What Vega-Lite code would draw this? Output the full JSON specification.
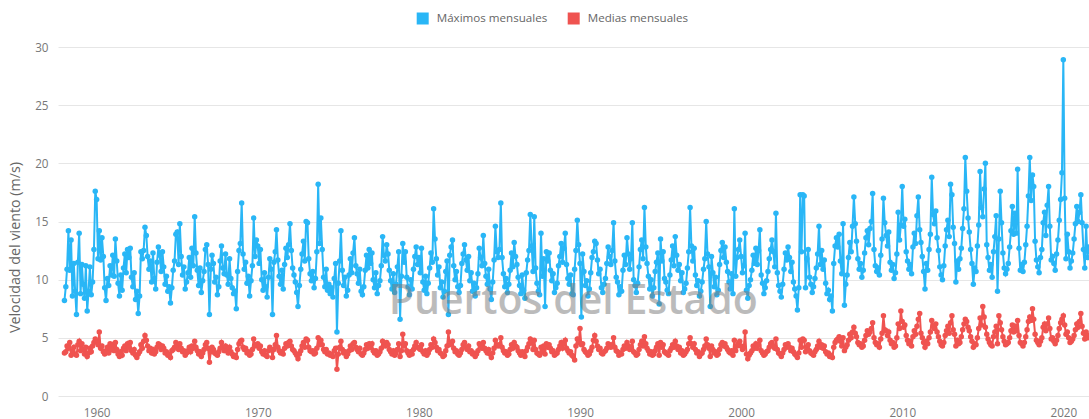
{
"$schema": "https://vega.github.io/schema/vega-lite/v6.json",
"width": 1031, "height": 349,
"autosize": {"type": "none"},
"padding": {"left": 58, "top": 47, "right": 0, "bottom": 23},
"background": "white",
"config": {"view": {"stroke": null}, "font": "Open Sans"},
"layer": [
{
"data": {"values": [
{"t":"1958-01","a":8.2,"b":3.7},{"t":"1958-02","a":9.4,"b":3.8},{"t":"1958-03","a":10.9,"b":4.3},{"t":"1958-04","a":14.2,"b":4.1},{"t":"1958-05","a":10.8,"b":4.6},{"t":"1958-06","a":13.4,"b":3.5},{"t":"1958-07","a":8.6,"b":3.9},{"t":"1958-08","a":11.4,"b":4.2},{"t":"1958-09","a":9.0,"b":3.6},{"t":"1958-10","a":7.0,"b":3.5},{"t":"1958-11","a":11.5,"b":4.4},{"t":"1958-12","a":14.0,"b":4.7},
{"t":"1959-01","a":8.8,"b":3.9},{"t":"1959-02","a":11.3,"b":4.5},{"t":"1959-03","a":9.6,"b":4.0},{"t":"1959-04","a":8.4,"b":3.6},{"t":"1959-05","a":11.2,"b":4.2},{"t":"1959-06","a":7.3,"b":3.4},{"t":"1959-07","a":9.0,"b":3.7},{"t":"1959-08","a":11.1,"b":4.1},{"t":"1959-09","a":8.7,"b":3.8},{"t":"1959-10","a":9.8,"b":4.3},{"t":"1959-11","a":12.6,"b":4.6},{"t":"1959-12","a":17.6,"b":4.9},
{"t":"1960-01","a":16.9,"b":4.7},{"t":"1960-02","a":11.8,"b":4.4},{"t":"1960-03","a":14.2,"b":5.5},{"t":"1960-04","a":11.7,"b":4.1},{"t":"1960-05","a":13.6,"b":4.3},{"t":"1960-06","a":12.0,"b":3.8},{"t":"1960-07","a":9.3,"b":3.6},{"t":"1960-08","a":8.2,"b":3.9},{"t":"1960-09","a":10.1,"b":4.2},{"t":"1960-10","a":9.5,"b":3.7},{"t":"1960-11","a":11.2,"b":4.5},{"t":"1960-12","a":10.4,"b":4.0},
{"t":"1961-01","a":12.1,"b":4.4},{"t":"1961-02","a":10.3,"b":3.9},{"t":"1961-03","a":13.5,"b":4.6},{"t":"1961-04","a":11.6,"b":4.0},{"t":"1961-05","a":9.7,"b":3.6},{"t":"1961-06","a":8.6,"b":3.4},{"t":"1961-07","a":10.4,"b":3.8},{"t":"1961-08","a":9.1,"b":3.5},{"t":"1961-09","a":11.0,"b":4.1},{"t":"1961-10","a":12.2,"b":4.3},{"t":"1961-11","a":10.6,"b":3.9},{"t":"1961-12","a":12.6,"b":4.5},
{"t":"1962-01","a":11.9,"b":4.2},{"t":"1962-02","a":12.7,"b":4.6},{"t":"1962-03","a":10.2,"b":3.9},{"t":"1962-04","a":9.4,"b":3.7},{"t":"1962-05","a":10.6,"b":4.0},{"t":"1962-06","a":8.3,"b":3.5},{"t":"1962-07","a":9.0,"b":3.3},{"t":"1962-08","a":7.1,"b":3.6},{"t":"1962-09","a":8.6,"b":3.8},{"t":"1962-10","a":12.4,"b":4.4},{"t":"1962-11","a":11.8,"b":4.1},{"t":"1962-12","a":12.5,"b":4.7},
{"t":"1963-01","a":14.5,"b":5.2},{"t":"1963-02","a":13.8,"b":4.8},{"t":"1963-03","a":12.0,"b":4.3},{"t":"1963-04","a":10.9,"b":3.9},{"t":"1963-05","a":11.6,"b":4.1},{"t":"1963-06","a":9.8,"b":3.7},{"t":"1963-07","a":12.3,"b":4.0},{"t":"1963-08","a":10.1,"b":3.6},{"t":"1963-09","a":9.2,"b":3.8},{"t":"1963-10","a":11.5,"b":4.2},{"t":"1963-11","a":12.8,"b":4.5},{"t":"1963-12","a":12.1,"b":4.4},
{"t":"1964-01","a":10.7,"b":4.0},{"t":"1964-02","a":12.4,"b":4.3},{"t":"1964-03","a":11.1,"b":4.1},{"t":"1964-04","a":9.6,"b":3.7},{"t":"1964-05","a":10.3,"b":3.8},{"t":"1964-06","a":9.0,"b":3.5},{"t":"1964-07","a":9.4,"b":3.6},{"t":"1964-08","a":8.0,"b":3.3},{"t":"1964-09","a":9.3,"b":3.9},{"t":"1964-10","a":10.8,"b":4.0},{"t":"1964-11","a":11.6,"b":4.2},{"t":"1964-12","a":13.9,"b":4.6},
{"t":"1965-01","a":14.1,"b":4.4},{"t":"1965-02","a":11.3,"b":4.0},{"t":"1965-03","a":14.8,"b":4.5},{"t":"1965-04","a":12.0,"b":4.1},{"t":"1965-05","a":10.4,"b":3.8},{"t":"1965-06","a":11.1,"b":3.9},{"t":"1965-07","a":9.2,"b":3.5},{"t":"1965-08","a":9.8,"b":3.7},{"t":"1965-09","a":10.6,"b":3.9},{"t":"1965-10","a":11.9,"b":4.2},{"t":"1965-11","a":10.2,"b":3.8},{"t":"1965-12","a":12.7,"b":4.3},
{"t":"1966-01","a":11.2,"b":4.1},{"t":"1966-02","a":15.4,"b":4.7},{"t":"1966-03","a":12.3,"b":4.2},{"t":"1966-04","a":10.8,"b":3.9},{"t":"1966-05","a":9.5,"b":3.6},{"t":"1966-06","a":11.0,"b":3.8},{"t":"1966-07","a":8.9,"b":3.4},{"t":"1966-08","a":9.9,"b":3.7},{"t":"1966-09","a":10.7,"b":4.0},{"t":"1966-10","a":12.6,"b":4.4},{"t":"1966-11","a":13.0,"b":4.6},{"t":"1966-12","a":11.3,"b":4.1},
{"t":"1967-01","a":7.0,"b":2.9},{"t":"1967-02","a":10.9,"b":3.8},{"t":"1967-03","a":12.1,"b":4.2},{"t":"1967-04","a":11.4,"b":4.0},{"t":"1967-05","a":9.8,"b":3.7},{"t":"1967-06","a":10.2,"b":3.6},{"t":"1967-07","a":8.7,"b":3.5},{"t":"1967-08","a":9.4,"b":3.8},{"t":"1967-09","a":11.6,"b":4.1},{"t":"1967-10","a":12.9,"b":4.6},{"t":"1967-11","a":11.0,"b":4.2},{"t":"1967-12","a":10.5,"b":3.9},
{"t":"1968-01","a":12.2,"b":4.3},{"t":"1968-02","a":10.4,"b":3.9},{"t":"1968-03","a":9.6,"b":3.7},{"t":"1968-04","a":11.8,"b":4.2},{"t":"1968-05","a":10.1,"b":3.8},{"t":"1968-06","a":9.3,"b":3.6},{"t":"1968-07","a":8.8,"b":3.4},{"t":"1968-08","a":9.0,"b":3.5},{"t":"1968-09","a":7.5,"b":3.3},{"t":"1968-10","a":10.7,"b":4.0},{"t":"1968-11","a":12.5,"b":4.5},{"t":"1968-12","a":13.1,"b":4.7},
{"t":"1969-01","a":16.6,"b":4.8},{"t":"1969-02","a":12.2,"b":4.2},{"t":"1969-03","a":10.9,"b":4.0},{"t":"1969-04","a":11.5,"b":4.1},{"t":"1969-05","a":9.7,"b":3.7},{"t":"1969-06","a":10.3,"b":3.8},{"t":"1969-07","a":8.6,"b":3.5},{"t":"1969-08","a":9.9,"b":3.6},{"t":"1969-09","a":11.2,"b":4.0},{"t":"1969-10","a":15.3,"b":4.9},{"t":"1969-11","a":12.0,"b":4.3},{"t":"1969-12","a":13.4,"b":4.4},
{"t":"1970-01","a":12.9,"b":4.5},{"t":"1970-02","a":11.4,"b":4.1},{"t":"1970-03","a":12.6,"b":4.3},{"t":"1970-04","a":10.0,"b":3.8},{"t":"1970-05","a":9.1,"b":3.6},{"t":"1970-06","a":10.6,"b":3.9},{"t":"1970-07","a":9.4,"b":3.5},{"t":"1970-08","a":8.5,"b":3.4},{"t":"1970-09","a":10.2,"b":3.9},{"t":"1970-10","a":11.8,"b":4.2},{"t":"1970-11","a":10.9,"b":4.0},{"t":"1970-12","a":7.0,"b":3.3},
{"t":"1971-01","a":11.5,"b":4.0},{"t":"1971-02","a":12.4,"b":4.4},{"t":"1971-03","a":14.3,"b":5.2},{"t":"1971-04","a":11.7,"b":4.2},{"t":"1971-05","a":10.3,"b":3.9},{"t":"1971-06","a":9.6,"b":3.7},{"t":"1971-07","a":10.8,"b":3.8},{"t":"1971-08","a":9.2,"b":3.6},{"t":"1971-09","a":11.3,"b":4.1},{"t":"1971-10","a":12.7,"b":4.5},{"t":"1971-11","a":11.9,"b":4.3},{"t":"1971-12","a":13.0,"b":4.6},
{"t":"1972-01","a":14.8,"b":4.7},{"t":"1972-02","a":12.5,"b":4.3},{"t":"1972-03","a":11.0,"b":4.0},{"t":"1972-04","a":10.4,"b":3.9},{"t":"1972-05","a":9.8,"b":3.7},{"t":"1972-06","a":8.9,"b":3.5},{"t":"1972-07","a":7.7,"b":3.2},{"t":"1972-08","a":9.5,"b":3.6},{"t":"1972-09","a":10.9,"b":3.9},{"t":"1972-10","a":12.2,"b":4.3},{"t":"1972-11","a":13.3,"b":4.6},{"t":"1972-12","a":11.6,"b":4.2},
{"t":"1973-01","a":15.0,"b":4.9},{"t":"1973-02","a":14.9,"b":4.8},{"t":"1973-03","a":11.8,"b":4.2},{"t":"1973-04","a":10.5,"b":3.9},{"t":"1973-05","a":9.9,"b":3.8},{"t":"1973-06","a":10.7,"b":3.9},{"t":"1973-07","a":9.3,"b":3.6},{"t":"1973-08","a":10.1,"b":3.7},{"t":"1973-09","a":12.4,"b":4.1},{"t":"1973-10","a":18.2,"b":5.0},{"t":"1973-11","a":13.1,"b":4.4},{"t":"1973-12","a":15.3,"b":4.8},
{"t":"1974-01","a":12.6,"b":4.4},{"t":"1974-02","a":10.2,"b":4.0},{"t":"1974-03","a":9.4,"b":3.8},{"t":"1974-04","a":10.9,"b":4.0},{"t":"1974-05","a":9.1,"b":3.6},{"t":"1974-06","a":9.6,"b":3.7},{"t":"1974-07","a":8.8,"b":3.5},{"t":"1974-08","a":9.3,"b":3.6},{"t":"1974-09","a":8.5,"b":3.4},{"t":"1974-10","a":10.1,"b":3.9},{"t":"1974-11","a":11.4,"b":4.1},{"t":"1974-12","a":5.5,"b":2.3},
{"t":"1975-01","a":9.7,"b":3.6},{"t":"1975-02","a":11.6,"b":4.2},{"t":"1975-03","a":14.2,"b":4.7},{"t":"1975-04","a":10.8,"b":4.0},{"t":"1975-05","a":9.5,"b":3.7},{"t":"1975-06","a":10.2,"b":3.8},{"t":"1975-07","a":8.6,"b":3.4},{"t":"1975-08","a":9.1,"b":3.6},{"t":"1975-09","a":10.4,"b":3.9},{"t":"1975-10","a":11.8,"b":4.3},{"t":"1975-11","a":10.6,"b":4.0},{"t":"1975-12","a":12.3,"b":4.5},
{"t":"1976-01","a":13.6,"b":4.6},{"t":"1976-02","a":11.2,"b":4.2},{"t":"1976-03","a":10.5,"b":4.0},{"t":"1976-04","a":9.7,"b":3.8},{"t":"1976-05","a":10.9,"b":4.1},{"t":"1976-06","a":9.0,"b":3.6},{"t":"1976-07","a":8.7,"b":3.5},{"t":"1976-08","a":9.4,"b":3.7},{"t":"1976-09","a":10.8,"b":4.0},{"t":"1976-10","a":12.1,"b":4.4},{"t":"1976-11","a":11.0,"b":4.1},{"t":"1976-12","a":12.6,"b":4.5},
{"t":"1977-01","a":11.4,"b":4.2},{"t":"1977-02","a":12.3,"b":4.5},{"t":"1977-03","a":10.0,"b":3.9},{"t":"1977-04","a":9.3,"b":3.7},{"t":"1977-05","a":10.6,"b":3.9},{"t":"1977-06","a":8.8,"b":3.5},{"t":"1977-07","a":9.5,"b":3.6},{"t":"1977-08","a":9.9,"b":3.8},{"t":"1977-09","a":11.2,"b":4.1},{"t":"1977-10","a":13.7,"b":4.7},{"t":"1977-11","a":12.1,"b":4.4},{"t":"1977-12","a":11.6,"b":4.3},
{"t":"1978-01","a":13.0,"b":4.6},{"t":"1978-02","a":12.2,"b":4.4},{"t":"1978-03","a":10.8,"b":4.0},{"t":"1978-04","a":9.9,"b":3.8},{"t":"1978-05","a":9.2,"b":3.6},{"t":"1978-06","a":10.5,"b":3.9},{"t":"1978-07","a":8.9,"b":3.5},{"t":"1978-08","a":9.6,"b":3.7},{"t":"1978-09","a":11.1,"b":4.0},{"t":"1978-10","a":12.4,"b":4.5},{"t":"1978-11","a":6.6,"b":3.4},{"t":"1978-12","a":10.3,"b":3.9},
{"t":"1979-01","a":13.1,"b":5.3},{"t":"1979-02","a":11.5,"b":4.3},{"t":"1979-03","a":12.4,"b":4.5},{"t":"1979-04","a":10.2,"b":3.9},{"t":"1979-05","a":9.4,"b":3.7},{"t":"1979-06","a":8.7,"b":3.5},{"t":"1979-07","a":10.0,"b":3.8},{"t":"1979-08","a":9.2,"b":3.6},{"t":"1979-09","a":10.9,"b":4.0},{"t":"1979-10","a":12.0,"b":4.3},{"t":"1979-11","a":12.8,"b":4.6},{"t":"1979-12","a":11.3,"b":4.2},
{"t":"1980-01","a":11.9,"b":4.1},{"t":"1980-02","a":10.6,"b":4.0},{"t":"1980-03","a":12.7,"b":4.4},{"t":"1980-04","a":9.8,"b":3.8},{"t":"1980-05","a":9.1,"b":3.6},{"t":"1980-06","a":10.3,"b":3.9},{"t":"1980-07","a":8.8,"b":3.5},{"t":"1980-08","a":9.7,"b":3.7},{"t":"1980-09","a":11.0,"b":4.0},{"t":"1980-10","a":12.3,"b":4.4},{"t":"1980-11","a":11.5,"b":4.2},{"t":"1980-12","a":16.1,"b":4.9},
{"t":"1981-01","a":13.5,"b":4.6},{"t":"1981-02","a":11.8,"b":4.2},{"t":"1981-03","a":10.4,"b":3.9},{"t":"1981-04","a":11.1,"b":4.0},{"t":"1981-05","a":9.3,"b":3.7},{"t":"1981-06","a":9.8,"b":3.6},{"t":"1981-07","a":8.5,"b":3.4},{"t":"1981-08","a":9.0,"b":3.5},{"t":"1981-09","a":10.7,"b":3.9},{"t":"1981-10","a":11.6,"b":4.3},{"t":"1981-11","a":7.0,"b":5.5},{"t":"1981-12","a":12.1,"b":4.4},
{"t":"1982-01","a":12.8,"b":4.5},{"t":"1982-02","a":13.4,"b":4.7},{"t":"1982-03","a":11.2,"b":4.1},{"t":"1982-04","a":10.0,"b":3.8},{"t":"1982-05","a":10.7,"b":3.9},{"t":"1982-06","a":9.4,"b":3.6},{"t":"1982-07","a":8.9,"b":3.5},{"t":"1982-08","a":9.5,"b":3.7},{"t":"1982-09","a":11.4,"b":4.0},{"t":"1982-10","a":12.2,"b":4.4},{"t":"1982-11","a":13.0,"b":4.6},{"t":"1982-12","a":11.7,"b":4.2},
{"t":"1983-01","a":10.8,"b":4.0},{"t":"1983-02","a":12.0,"b":4.3},{"t":"1983-03","a":9.9,"b":3.8},{"t":"1983-04","a":10.6,"b":3.9},{"t":"1983-05","a":9.0,"b":3.6},{"t":"1983-06","a":9.7,"b":3.7},{"t":"1983-07","a":8.6,"b":3.4},{"t":"1983-08","a":9.3,"b":3.6},{"t":"1983-09","a":10.5,"b":3.9},{"t":"1983-10","a":12.7,"b":4.5},{"t":"1983-11","a":11.9,"b":4.3},{"t":"1983-12","a":11.2,"b":4.1},
{"t":"1984-01","a":13.8,"b":4.6},{"t":"1984-02","a":11.4,"b":4.1},{"t":"1984-03","a":10.3,"b":3.9},{"t":"1984-04","a":9.6,"b":3.7},{"t":"1984-05","a":10.9,"b":4.0},{"t":"1984-06","a":9.2,"b":3.6},{"t":"1984-07","a":8.3,"b":3.3},{"t":"1984-08","a":9.8,"b":3.7},{"t":"1984-09","a":11.7,"b":4.1},{"t":"1984-10","a":14.6,"b":4.8},{"t":"1984-11","a":12.4,"b":4.4},{"t":"1984-12","a":11.9,"b":4.3},
{"t":"1985-01","a":12.6,"b":4.4},{"t":"1985-02","a":16.6,"b":5.0},{"t":"1985-03","a":11.9,"b":4.2},{"t":"1985-04","a":10.5,"b":3.9},{"t":"1985-05","a":9.4,"b":3.7},{"t":"1985-06","a":10.1,"b":3.8},{"t":"1985-07","a":8.9,"b":3.5},{"t":"1985-08","a":9.6,"b":3.6},{"t":"1985-09","a":10.8,"b":4.0},{"t":"1985-10","a":12.3,"b":4.4},{"t":"1985-11","a":11.1,"b":4.1},{"t":"1985-12","a":13.2,"b":4.6},
{"t":"1986-01","a":12.0,"b":4.3},{"t":"1986-02","a":11.3,"b":4.2},{"t":"1986-03","a":10.2,"b":3.9},{"t":"1986-04","a":9.5,"b":3.7},{"t":"1986-05","a":8.8,"b":3.5},{"t":"1986-06","a":10.4,"b":3.8},{"t":"1986-07","a":9.1,"b":3.6},{"t":"1986-08","a":8.4,"b":3.4},{"t":"1986-09","a":10.6,"b":3.9},{"t":"1986-10","a":11.7,"b":4.2},{"t":"1986-11","a":12.5,"b":4.5},{"t":"1986-12","a":15.6,"b":4.9},
{"t":"1987-01","a":12.9,"b":4.6},{"t":"1987-02","a":10.7,"b":4.0},{"t":"1987-03","a":15.4,"b":4.8},{"t":"1987-04","a":11.0,"b":4.0},{"t":"1987-05","a":9.7,"b":3.7},{"t":"1987-06","a":9.0,"b":3.6},{"t":"1987-07","a":8.7,"b":3.5},{"t":"1987-08","a":14.0,"b":4.2},{"t":"1987-09","a":10.3,"b":3.8},{"t":"1987-10","a":11.8,"b":4.3},{"t":"1987-11","a":7.7,"b":3.6},{"t":"1987-12","a":12.4,"b":4.5},
{"t":"1988-01","a":11.6,"b":4.2},{"t":"1988-02","a":12.3,"b":4.4},{"t":"1988-03","a":10.8,"b":4.1},{"t":"1988-04","a":9.9,"b":3.8},{"t":"1988-05","a":10.5,"b":3.9},{"t":"1988-06","a":8.9,"b":3.5},{"t":"1988-07","a":9.3,"b":3.6},{"t":"1988-08","a":9.7,"b":3.7},{"t":"1988-09","a":11.2,"b":4.0},{"t":"1988-10","a":12.0,"b":4.3},{"t":"1988-11","a":13.1,"b":4.6},{"t":"1988-12","a":11.5,"b":4.1},
{"t":"1989-01","a":12.7,"b":4.5},{"t":"1989-02","a":14.0,"b":4.8},{"t":"1989-03","a":11.3,"b":4.1},{"t":"1989-04","a":10.1,"b":3.9},{"t":"1989-05","a":9.6,"b":3.7},{"t":"1989-06","a":10.4,"b":3.8},{"t":"1989-07","a":8.8,"b":3.5},{"t":"1989-08","a":8.7,"b":3.4},{"t":"1989-09","a":10.9,"b":3.1},{"t":"1989-10","a":12.5,"b":4.3},{"t":"1989-11","a":15.1,"b":4.9},{"t":"1989-12","a":13.0,"b":4.6},
{"t":"1990-01","a":11.4,"b":5.8},{"t":"1990-02","a":6.8,"b":4.4},{"t":"1990-03","a":12.2,"b":4.5},{"t":"1990-04","a":10.7,"b":4.0},{"t":"1990-05","a":9.5,"b":3.8},{"t":"1990-06","a":9.9,"b":3.7},{"t":"1990-07","a":8.6,"b":3.5},{"t":"1990-08","a":9.2,"b":3.6},{"t":"1990-09","a":10.6,"b":3.9},{"t":"1990-10","a":11.9,"b":4.2},{"t":"1990-11","a":12.4,"b":4.8},{"t":"1990-12","a":13.3,"b":5.2},
{"t":"1991-01","a":13.1,"b":4.7},{"t":"1991-02","a":11.7,"b":4.3},{"t":"1991-03","a":10.5,"b":4.0},{"t":"1991-04","a":10.9,"b":4.1},{"t":"1991-05","a":9.3,"b":3.7},{"t":"1991-06","a":8.9,"b":3.6},{"t":"1991-07","a":9.6,"b":3.8},{"t":"1991-08","a":10.1,"b":3.9},{"t":"1991-09","a":11.4,"b":4.1},{"t":"1991-10","a":12.8,"b":4.5},{"t":"1991-11","a":12.0,"b":4.4},{"t":"1991-12","a":11.3,"b":4.2},
{"t":"1992-01","a":12.5,"b":4.4},{"t":"1992-02","a":14.9,"b":5.0},{"t":"1992-03","a":11.6,"b":4.2},{"t":"1992-04","a":10.2,"b":3.9},{"t":"1992-05","a":9.8,"b":3.8},{"t":"1992-06","a":8.7,"b":3.5},{"t":"1992-07","a":9.4,"b":3.7},{"t":"1992-08","a":9.0,"b":3.6},{"t":"1992-09","a":10.8,"b":4.0},{"t":"1992-10","a":12.1,"b":4.3},{"t":"1992-11","a":11.3,"b":4.1},{"t":"1992-12","a":13.6,"b":4.6},
{"t":"1993-01","a":12.2,"b":4.3},{"t":"1993-02","a":10.9,"b":4.0},{"t":"1993-03","a":11.8,"b":4.2},{"t":"1993-04","a":14.9,"b":4.7},{"t":"1993-05","a":10.0,"b":3.8},{"t":"1993-06","a":9.5,"b":3.7},{"t":"1993-07","a":8.9,"b":3.5},{"t":"1993-08","a":9.7,"b":3.6},{"t":"1993-09","a":11.1,"b":4.0},{"t":"1993-10","a":12.6,"b":4.4},{"t":"1993-11","a":13.4,"b":4.7},{"t":"1993-12","a":11.8,"b":4.3},
{"t":"1994-01","a":16.2,"b":5.1},{"t":"1994-02","a":12.8,"b":4.5},{"t":"1994-03","a":11.4,"b":4.1},{"t":"1994-04","a":10.3,"b":3.9},{"t":"1994-05","a":9.2,"b":3.6},{"t":"1994-06","a":10.0,"b":3.8},{"t":"1994-07","a":8.6,"b":3.5},{"t":"1994-08","a":9.3,"b":3.6},{"t":"1994-09","a":10.7,"b":3.9},{"t":"1994-10","a":11.5,"b":4.2},{"t":"1994-11","a":12.3,"b":4.5},{"t":"1994-12","a":7.9,"b":3.5},
{"t":"1995-01","a":13.5,"b":4.6},{"t":"1995-02","a":11.6,"b":4.2},{"t":"1995-03","a":12.4,"b":4.4},{"t":"1995-04","a":10.1,"b":3.8},{"t":"1995-05","a":9.8,"b":3.7},{"t":"1995-06","a":9.1,"b":3.6},{"t":"1995-07","a":8.8,"b":3.5},{"t":"1995-08","a":10.4,"b":3.9},{"t":"1995-09","a":11.7,"b":4.1},{"t":"1995-10","a":12.9,"b":4.4},{"t":"1995-11","a":11.2,"b":4.2},{"t":"1995-12","a":13.7,"b":4.7},
{"t":"1996-01","a":12.1,"b":4.3},{"t":"1996-02","a":10.8,"b":4.0},{"t":"1996-03","a":11.3,"b":4.2},{"t":"1996-04","a":9.9,"b":3.7},{"t":"1996-05","a":10.6,"b":3.9},{"t":"1996-06","a":8.9,"b":3.5},{"t":"1996-07","a":9.2,"b":3.6},{"t":"1996-08","a":9.7,"b":3.8},{"t":"1996-09","a":11.0,"b":4.0},{"t":"1996-10","a":12.4,"b":4.5},{"t":"1996-11","a":16.2,"b":5.0},{"t":"1996-12","a":12.9,"b":4.5},
{"t":"1997-01","a":11.6,"b":4.2},{"t":"1997-02","a":12.7,"b":4.5},{"t":"1997-03","a":10.4,"b":4.0},{"t":"1997-04","a":9.5,"b":3.7},{"t":"1997-05","a":9.9,"b":3.8},{"t":"1997-06","a":8.6,"b":3.4},{"t":"1997-07","a":9.0,"b":3.6},{"t":"1997-08","a":9.8,"b":3.7},{"t":"1997-09","a":10.9,"b":4.0},{"t":"1997-10","a":11.8,"b":4.3},{"t":"1997-11","a":15.0,"b":4.9},{"t":"1997-12","a":12.2,"b":4.4},
{"t":"1998-01","a":11.1,"b":4.1},{"t":"1998-02","a":7.7,"b":3.4},{"t":"1998-03","a":12.0,"b":4.3},{"t":"1998-04","a":10.6,"b":4.0},{"t":"1998-05","a":9.4,"b":3.7},{"t":"1998-06","a":10.2,"b":3.8},{"t":"1998-07","a":8.7,"b":3.5},{"t":"1998-08","a":9.1,"b":3.6},{"t":"1998-09","a":11.3,"b":4.0},{"t":"1998-10","a":12.5,"b":4.4},{"t":"1998-11","a":13.2,"b":4.6},{"t":"1998-12","a":11.9,"b":4.3},
{"t":"1999-01","a":12.8,"b":4.5},{"t":"1999-02","a":11.5,"b":4.2},{"t":"1999-03","a":10.7,"b":4.0},{"t":"1999-04","a":9.8,"b":3.8},{"t":"1999-05","a":9.2,"b":3.7},{"t":"1999-06","a":10.5,"b":3.9},{"t":"1999-07","a":8.8,"b":3.5},{"t":"1999-08","a":16.1,"b":4.8},{"t":"1999-09","a":10.3,"b":3.9},{"t":"1999-10","a":11.9,"b":4.3},{"t":"1999-11","a":12.6,"b":4.5},{"t":"1999-12","a":13.4,"b":4.7},
{"t":"2000-01","a":12.0,"b":4.3},{"t":"2000-02","a":10.6,"b":4.0},{"t":"2000-03","a":11.2,"b":4.2},{"t":"2000-04","a":14.0,"b":5.5},{"t":"2000-05","a":9.1,"b":3.6},{"t":"2000-06","a":8.4,"b":3.2},{"t":"2000-07","a":9.5,"b":3.5},{"t":"2000-08","a":10.0,"b":3.7},{"t":"2000-09","a":10.8,"b":3.9},{"t":"2000-10","a":12.1,"b":4.3},{"t":"2000-11","a":11.4,"b":4.1},{"t":"2000-12","a":12.7,"b":4.5},
{"t":"2001-01","a":11.3,"b":4.1},{"t":"2001-02","a":12.5,"b":4.4},{"t":"2001-03","a":14.3,"b":4.8},{"t":"2001-04","a":10.4,"b":3.9},{"t":"2001-05","a":9.7,"b":3.7},{"t":"2001-06","a":8.8,"b":3.5},{"t":"2001-07","a":9.3,"b":3.6},{"t":"2001-08","a":9.9,"b":3.8},{"t":"2001-09","a":10.7,"b":3.9},{"t":"2001-10","a":11.8,"b":4.2},{"t":"2001-11","a":12.6,"b":4.5},{"t":"2001-12","a":13.4,"b":4.6},
{"t":"2002-01","a":12.4,"b":4.3},{"t":"2002-02","a":11.1,"b":4.1},{"t":"2002-03","a":15.7,"b":4.9},{"t":"2002-04","a":10.6,"b":4.0},{"t":"2002-05","a":9.5,"b":3.7},{"t":"2002-06","a":9.0,"b":3.6},{"t":"2002-07","a":8.5,"b":3.4},{"t":"2002-08","a":9.6,"b":3.7},{"t":"2002-09","a":10.9,"b":4.0},{"t":"2002-10","a":12.3,"b":4.4},{"t":"2002-11","a":11.7,"b":4.2},{"t":"2002-12","a":12.8,"b":4.5},
{"t":"2003-01","a":11.9,"b":4.2},{"t":"2003-02","a":10.7,"b":3.9},{"t":"2003-03","a":11.5,"b":4.1},{"t":"2003-04","a":9.8,"b":3.8},{"t":"2003-05","a":9.2,"b":3.6},{"t":"2003-06","a":8.6,"b":3.5},{"t":"2003-07","a":7.4,"b":3.3},{"t":"2003-08","a":9.3,"b":3.7},{"t":"2003-09","a":17.3,"b":4.8},{"t":"2003-10","a":12.4,"b":4.2},{"t":"2003-11","a":17.3,"b":4.9},{"t":"2003-12","a":17.2,"b":4.8},
{"t":"2004-01","a":9.3,"b":3.8},{"t":"2004-02","a":11.8,"b":4.2},{"t":"2004-03","a":12.6,"b":4.4},{"t":"2004-04","a":10.2,"b":3.9},{"t":"2004-05","a":9.6,"b":3.7},{"t":"2004-06","a":8.9,"b":3.6},{"t":"2004-07","a":9.4,"b":3.5},{"t":"2004-08","a":10.1,"b":3.8},{"t":"2004-09","a":11.0,"b":4.0},{"t":"2004-10","a":12.2,"b":4.3},{"t":"2004-11","a":14.6,"b":4.7},{"t":"2004-12","a":11.3,"b":4.2},
{"t":"2005-01","a":12.5,"b":4.4},{"t":"2005-02","a":10.9,"b":4.1},{"t":"2005-03","a":11.7,"b":4.3},{"t":"2005-04","a":9.7,"b":3.8},{"t":"2005-05","a":8.8,"b":3.6},{"t":"2005-06","a":9.1,"b":3.7},{"t":"2005-07","a":8.3,"b":3.4},{"t":"2005-08","a":8.6,"b":3.5},{"t":"2005-09","a":7.3,"b":3.3},{"t":"2005-10","a":11.4,"b":4.2},{"t":"2005-11","a":12.9,"b":4.6},{"t":"2005-12","a":13.6,"b":4.8},
{"t":"2006-01","a":12.8,"b":4.9},{"t":"2006-02","a":13.9,"b":5.1},{"t":"2006-03","a":11.6,"b":4.7},{"t":"2006-04","a":10.5,"b":4.3},{"t":"2006-05","a":14.8,"b":5.0},{"t":"2006-06","a":7.8,"b":3.9},{"t":"2006-07","a":9.6,"b":4.2},{"t":"2006-08","a":10.4,"b":4.4},{"t":"2006-09","a":11.9,"b":4.8},{"t":"2006-10","a":13.2,"b":5.3},{"t":"2006-11","a":12.4,"b":5.0},{"t":"2006-12","a":14.6,"b":5.5},
{"t":"2007-01","a":17.1,"b":5.9},{"t":"2007-02","a":14.8,"b":5.4},{"t":"2007-03","a":13.3,"b":5.1},{"t":"2007-04","a":11.8,"b":4.6},{"t":"2007-05","a":10.9,"b":4.4},{"t":"2007-06","a":11.4,"b":4.5},{"t":"2007-07","a":10.2,"b":4.2},{"t":"2007-08","a":10.8,"b":4.3},{"t":"2007-09","a":12.3,"b":4.8},{"t":"2007-10","a":13.6,"b":5.2},{"t":"2007-11","a":14.2,"b":5.6},{"t":"2007-12","a":13.0,"b":5.3},
{"t":"2008-01","a":14.4,"b":5.5},{"t":"2008-02","a":15.0,"b":5.8},{"t":"2008-03","a":17.4,"b":6.3},{"t":"2008-04","a":12.6,"b":5.0},{"t":"2008-05","a":11.2,"b":4.6},{"t":"2008-06","a":10.7,"b":4.4},{"t":"2008-07","a":11.0,"b":4.5},{"t":"2008-08","a":10.4,"b":4.2},{"t":"2008-09","a":12.1,"b":4.9},{"t":"2008-10","a":13.5,"b":5.4},{"t":"2008-11","a":17.0,"b":6.9},{"t":"2008-12","a":14.9,"b":5.7},
{"t":"2009-01","a":13.8,"b":5.6},{"t":"2009-02","a":12.9,"b":5.2},{"t":"2009-03","a":14.1,"b":5.5},{"t":"2009-04","a":11.5,"b":4.8},{"t":"2009-05","a":10.8,"b":4.5},{"t":"2009-06","a":11.3,"b":4.6},{"t":"2009-07","a":10.1,"b":4.2},{"t":"2009-08","a":10.6,"b":4.3},{"t":"2009-09","a":12.2,"b":5.0},{"t":"2009-10","a":15.8,"b":6.2},{"t":"2009-11","a":13.4,"b":5.8},{"t":"2009-12","a":14.7,"b":7.3},
{"t":"2010-01","a":18.0,"b":6.4},{"t":"2010-02","a":14.6,"b":5.9},{"t":"2010-03","a":15.2,"b":6.1},{"t":"2010-04","a":12.4,"b":5.2},{"t":"2010-05","a":11.6,"b":4.8},{"t":"2010-06","a":10.9,"b":4.5},{"t":"2010-07","a":11.3,"b":4.7},{"t":"2010-08","a":10.5,"b":4.3},{"t":"2010-09","a":12.8,"b":5.1},{"t":"2010-10","a":14.0,"b":5.6},{"t":"2010-11","a":13.1,"b":5.3},{"t":"2010-12","a":15.5,"b":6.0},
{"t":"2011-01","a":17.1,"b":6.6},{"t":"2011-02","a":14.3,"b":7.1},{"t":"2011-03","a":13.2,"b":5.4},{"t":"2011-04","a":12.0,"b":5.0},{"t":"2011-05","a":10.7,"b":4.6},{"t":"2011-06","a":9.2,"b":4.2},{"t":"2011-07","a":11.4,"b":4.7},{"t":"2011-08","a":10.8,"b":4.5},{"t":"2011-09","a":12.6,"b":5.0},{"t":"2011-10","a":13.9,"b":5.5},{"t":"2011-11","a":18.8,"b":6.5},{"t":"2011-12","a":15.6,"b":6.0},
{"t":"2012-01","a":14.8,"b":5.8},{"t":"2012-02","a":15.9,"b":6.2},{"t":"2012-03","a":13.6,"b":5.5},{"t":"2012-04","a":12.5,"b":5.1},{"t":"2012-05","a":11.1,"b":4.7},{"t":"2012-06","a":10.4,"b":4.4},{"t":"2012-07","a":10.0,"b":4.3},{"t":"2012-08","a":11.2,"b":4.6},{"t":"2012-09","a":12.9,"b":5.2},{"t":"2012-10","a":14.3,"b":5.6},{"t":"2012-11","a":15.1,"b":6.0},{"t":"2012-12","a":13.7,"b":5.4},
{"t":"2013-01","a":18.2,"b":6.3},{"t":"2013-02","a":17.3,"b":6.9},{"t":"2013-03","a":14.5,"b":5.7},{"t":"2013-04","a":13.1,"b":5.3},{"t":"2013-05","a":9.8,"b":4.3},{"t":"2013-06","a":11.6,"b":4.8},{"t":"2013-07","a":10.9,"b":4.5},{"t":"2013-08","a":11.8,"b":4.6},{"t":"2013-09","a":12.7,"b":5.1},{"t":"2013-10","a":14.4,"b":5.7},{"t":"2013-11","a":16.1,"b":6.2},{"t":"2013-12","a":20.5,"b":6.6},
{"t":"2014-01","a":17.6,"b":6.4},{"t":"2014-02","a":15.3,"b":5.9},{"t":"2014-03","a":14.1,"b":5.6},{"t":"2014-04","a":12.6,"b":5.1},{"t":"2014-05","a":11.4,"b":4.7},{"t":"2014-06","a":9.6,"b":4.2},{"t":"2014-07","a":11.0,"b":4.5},{"t":"2014-08","a":10.7,"b":4.4},{"t":"2014-09","a":12.9,"b":5.0},{"t":"2014-10","a":14.7,"b":5.8},{"t":"2014-11","a":19.3,"b":6.7},{"t":"2014-12","a":16.2,"b":6.1},
{"t":"2015-01","a":15.4,"b":7.7},{"t":"2015-02","a":17.8,"b":6.8},{"t":"2015-03","a":20.0,"b":5.9},{"t":"2015-04","a":13.0,"b":5.3},{"t":"2015-05","a":11.9,"b":4.9},{"t":"2015-06","a":10.8,"b":4.6},{"t":"2015-07","a":11.3,"b":4.4},{"t":"2015-08","a":10.2,"b":4.3},{"t":"2015-09","a":12.4,"b":5.1},{"t":"2015-10","a":13.7,"b":5.5},{"t":"2015-11","a":15.5,"b":6.0},{"t":"2015-12","a":9.0,"b":4.5},
{"t":"2016-01","a":13.5,"b":6.9},{"t":"2016-02","a":17.6,"b":6.3},{"t":"2016-03","a":14.9,"b":5.7},{"t":"2016-04","a":12.3,"b":5.1},{"t":"2016-05","a":11.0,"b":4.7},{"t":"2016-06","a":10.5,"b":4.4},{"t":"2016-07","a":10.9,"b":4.5},{"t":"2016-08","a":11.4,"b":4.6},{"t":"2016-09","a":12.8,"b":5.0},{"t":"2016-10","a":14.2,"b":5.6},{"t":"2016-11","a":16.3,"b":6.1},{"t":"2016-12","a":13.9,"b":5.5},
{"t":"2017-01","a":15.7,"b":6.0},{"t":"2017-02","a":14.0,"b":5.6},{"t":"2017-03","a":19.5,"b":6.5},{"t":"2017-04","a":12.7,"b":5.2},{"t":"2017-05","a":10.8,"b":4.6},{"t":"2017-06","a":11.3,"b":4.5},{"t":"2017-07","a":10.7,"b":4.3},{"t":"2017-08","a":11.5,"b":4.6},{"t":"2017-09","a":13.0,"b":5.1},{"t":"2017-10","a":14.6,"b":5.7},{"t":"2017-11","a":17.2,"b":6.4},{"t":"2017-12","a":20.5,"b":6.8},
{"t":"2018-01","a":16.8,"b":6.5},{"t":"2018-02","a":19.0,"b":7.5},{"t":"2018-03","a":18.0,"b":6.6},{"t":"2018-04","a":13.3,"b":5.3},{"t":"2018-05","a":11.7,"b":4.8},{"t":"2018-06","a":11.1,"b":4.6},{"t":"2018-07","a":10.6,"b":4.4},{"t":"2018-08","a":11.9,"b":4.7},{"t":"2018-09","a":12.6,"b":5.0},{"t":"2018-10","a":14.9,"b":5.9},{"t":"2018-11","a":15.8,"b":6.2},{"t":"2018-12","a":13.8,"b":5.6},
{"t":"2019-01","a":16.4,"b":6.2},{"t":"2019-02","a":18.0,"b":6.7},{"t":"2019-03","a":14.6,"b":5.8},{"t":"2019-04","a":11.7,"b":4.9},{"t":"2019-05","a":12.0,"b":5.0},{"t":"2019-06","a":11.4,"b":4.7},{"t":"2019-07","a":10.8,"b":4.5},{"t":"2019-08","a":12.2,"b":4.8},{"t":"2019-09","a":13.4,"b":5.2},{"t":"2019-10","a":15.1,"b":5.8},{"t":"2019-11","a":16.9,"b":6.3},{"t":"2019-12","a":19.2,"b":6.6},
{"t":"2020-01","a":28.9,"b":6.9},{"t":"2020-02","a":17.0,"b":6.1},{"t":"2020-03","a":11.8,"b":5.3},{"t":"2020-04","a":13.9,"b":5.5},{"t":"2020-05","a":12.4,"b":5.0},{"t":"2020-06","a":11.0,"b":4.6},{"t":"2020-07","a":11.6,"b":4.7},{"t":"2020-08","a":12.3,"b":4.9},{"t":"2020-09","a":13.5,"b":5.2},{"t":"2020-10","a":14.8,"b":5.7},{"t":"2020-11","a":16.3,"b":6.2},{"t":"2020-12","a":15.0,"b":5.9},
{"t":"2021-01","a":15.8,"b":6.4},{"t":"2021-02","a":17.3,"b":7.1},{"t":"2021-03","a":14.9,"b":6.0},{"t":"2021-04","a":12.6,"b":5.4},{"t":"2021-05","a":11.0,"b":4.9},{"t":"2021-06","a":14.6,"b":5.5},{"t":"2021-07","a":11.9,"b":5.0},{"t":"2021-08","a":12.8,"b":5.2}
]},
"transform": [{"fold": ["a", "b"], "as": ["k", "v"]}],
"mark": {"type": "line", "strokeWidth": 2, "clip": true, "point": {"filled": true, "size": 30, "opacity": 1}},
"encoding": {
"x": {"field": "t", "type": "temporal", "scale": {"type": "utc", "domain": ["1957-08-08", "2021-08-05"], "nice": false},
"axis": {"title": null, "format": "%Y", "tickCount": {"interval": "year", "step": 10}, "grid": false, "ticks": false, "domain": false, "labelFontSize": 11.7, "labelColor": "#777777", "labelPadding": 11}},
"y": {"field": "v", "type": "quantitative", "scale": {"domain": [0, 30], "nice": false},
"axis": {"title": "Velocidad del viento (m/s)", "values": [0, 5, 10, 15, 20, 25, 30], "grid": true, "gridColor": "#e6e6e6", "ticks": false, "domain": false, "labelFontSize": 11.7, "labelColor": "#777777", "labelPadding": 10, "titleFontSize": 14.3, "titleColor": "#666666", "titleFontWeight": "normal", "titlePadding": 12, "titleY": 200}},
"color": {"field": "k", "type": "nominal", "scale": {"domain": ["a", "b"], "range": ["#29B6F6", "#EF5350"]},
"legend": {"orient": "none", "legendX": 358.7, "legendY": -34.5, "direction": "horizontal", "title": null, "symbolType": "square", "symbolSize": 144, "symbolStrokeWidth": 0, "labelFontSize": 11.6, "labelColor": "#666666", "columnPadding": 20, "labelOffset": 8, "padding": 0,
"labelExpr": "datum.label == 'a' ? 'Máximos mensuales' : 'Medias mensuales'",
"encode": {"symbols": {"update": {"fill": {"scale": "color", "field": "value"}, "stroke": {"value": "transparent"}}}}}}
}
},
{
"data": {"values": [{"label": "Puertos del Estado", "fecha": "1989-08-01", "valor": 8.1}]},
"mark": {"type": "text", "fontSize": 41, "fontWeight": 600, "fill": "#7a7a7a", "opacity": 0.5},
"encoding": {"x": {"field": "fecha", "type": "temporal"}, "y": {"field": "valor", "type": "quantitative"}, "text": {"field": "label"}}
}
]
}
